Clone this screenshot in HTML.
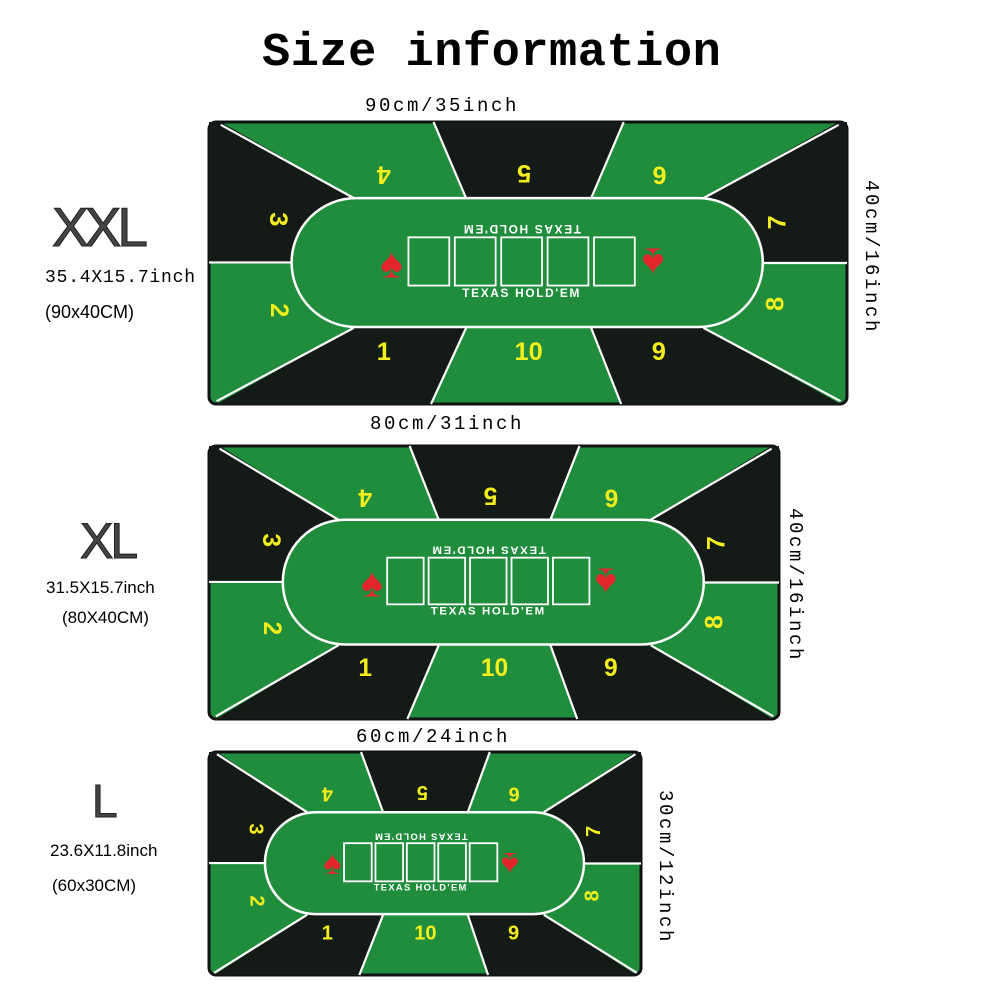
<!DOCTYPE html>
<html><head><meta charset="utf-8"><style>
body{margin:0;background:#fff;width:1000px;height:1000px;overflow:hidden;position:relative;font-family:"Liberation Sans",sans-serif}
.t{position:absolute;white-space:nowrap;color:#000;line-height:1;z-index:2}
.mono{font-family:"Liberation Mono",monospace}
svg{position:absolute;left:0;top:0;z-index:1}
</style></head><body>
<div class="t mono" style="left:262px;top:30px;font-size:47px;font-weight:bold;letter-spacing:0.5px">Size information</div>
<div class="t mono" style="left:365px;top:97px;font-size:19px;letter-spacing:2.6px">90cm/35inch</div>
<div class="t mono" style="left:370px;top:415px;font-size:19px;letter-spacing:2.6px">80cm/31inch</div>
<div class="t mono" style="left:356px;top:728px;font-size:19px;letter-spacing:2.6px">60cm/24inch</div>
<div class="t mono" style="left:860px;top:180px;font-size:19px;letter-spacing:2.6px;transform-origin:0 0;transform:rotate(90deg) translate(0,-20px)">40cm/16inch</div>
<div class="t mono" style="left:784px;top:508px;font-size:19px;letter-spacing:2.6px;transform-origin:0 0;transform:rotate(90deg) translate(0,-20px)">40cm/16inch</div>
<div class="t mono" style="left:654px;top:790px;font-size:19px;letter-spacing:2.6px;transform-origin:0 0;transform:rotate(90deg) translate(0,-20px)">30cm/12inch</div>
<div class="t" style="left:52px;top:200px;font-size:55px;color:#444;letter-spacing:-4px;-webkit-text-stroke:1px #222">XXL</div>
<div class="t mono" style="left:45px;top:269px;font-size:18px;letter-spacing:0.8px">35.4X15.7inch</div>
<div class="t" style="left:45px;top:303px;font-size:18px">(90x40CM)</div>
<div class="t" style="left:80px;top:516px;font-size:50px;color:#444;letter-spacing:-3px;-webkit-text-stroke:1px #222">XL</div>
<div class="t" style="left:46px;top:579px;font-size:17px">31.5X15.7inch</div>
<div class="t" style="left:62px;top:609px;font-size:17px">(80X40CM)</div>
<div class="t" style="left:92px;top:778px;font-size:46px;color:#444;-webkit-text-stroke:1px #222">L</div>
<div class="t" style="left:50px;top:842px;font-size:17px">23.6X11.8inch</div>
<div class="t" style="left:52px;top:877px;font-size:17px">(60x30CM)</div>
<svg id="s" width="1000" height="1000" xmlns="http://www.w3.org/2000/svg"></svg>
<script>
var s=document.getElementById('s');var out='';
function mat(X,Y,W,H){
 var px=function(f){return X+f*W;}, py=function(f){return Y+f*H;};
 var G='#1f8d3b',B='#141a15';
 var ox1=px(0.1295),ox2=px(0.868),oy1=py(0.27),oy2=py(0.727),r=(oy2-oy1)/2;
 var o='<rect x="'+X+'" y="'+Y+'" width="'+W+'" height="'+H+'" rx="7" fill="'+G+'" stroke="#111" stroke-width="3"/>';
 function poly(pts,c){o+='<polygon points="'+pts.map(function(p){return px(p[0])+','+py(p[1]);}).join(' ')+'" fill="'+c+'"/>';}
 poly([[0,0],[0.0185,0],[0.227,0.27],[0.1295,0.498],[0,0.498]],B);
 poly([[0.352,0],[0.65,0],[0.599,0.27],[0.403,0.27]],B);
 poly([[1,0],[0.987,0],[0.775,0.27],[0.868,0.498],[1,0.498]],B);
 poly([[0.227,0.73],[0.403,0.73],[0.348,1],[0.012,1]],B);
 poly([[0.599,0.73],[0.775,0.73],[0.99,1],[0.646,1]],B);
 function ln(a,b,c,d){o+='<line x1="'+px(a)+'" y1="'+py(b)+'" x2="'+px(c)+'" y2="'+py(d)+'" stroke="#fff" stroke-width="2.2"/>';}
 ln(0.0185,0.01,0.227,0.27);ln(0.352,0,0.403,0.27);ln(0.65,0,0.599,0.27);ln(0.987,0.01,0.775,0.27);
 ln(0,0.498,0.13,0.498);ln(0.868,0.5,1,0.5);
 ln(0.227,0.73,0.012,0.99);ln(0.403,0.73,0.348,1);ln(0.599,0.73,0.646,1);ln(0.775,0.73,0.99,0.99);
 o+='<rect x="'+ox1+'" y="'+oy1+'" width="'+(ox2-ox1)+'" height="'+(oy2-oy1)+'" rx="'+r+'" fill="'+G+'" stroke="#fff" stroke-width="2.5"/>';
 for(var i=0;i<5;i++)o+='<rect x="'+px(0.3126+i*0.0727)+'" y="'+py(0.409)+'" width="'+(0.064*W)+'" height="'+(0.171*H)+'" fill="none" stroke="#fff" stroke-width="1.8"/>';
 var fs=H*0.09, ts=H*0.042;
 function txt(t,fx,fy,rot,size,col,w,ls){var x=px(fx),y=py(fy);o+='<text x="'+x+'" y="'+y+'" transform="rotate('+rot+' '+x+' '+y+')" text-anchor="middle" dominant-baseline="central" font-family="Liberation Sans,sans-serif" font-size="'+size+'" fill="'+col+'" font-weight="'+(w||'normal')+'" letter-spacing="'+(ls||0)+'">'+t+'</text>';}
 txt("TEXAS HOLD'EM",0.49,0.38,180,ts,'#fff','bold',H*0.006);
 txt("TEXAS HOLD'EM",0.49,0.607,0,ts,'#fff','bold',H*0.006);
 txt('\u2660',0.286,0.5,0,H*0.15,'#e3262b');
 txt('\u2660',0.696,0.5,180,H*0.15,'#e3262b');
 var YC='#f2ee1e';
 txt('4',0.274,0.186,180,fs,YC,'bold');txt('5',0.494,0.18,180,fs,YC,'bold');txt('6',0.706,0.186,180,fs,YC,'bold');
 txt('3',0.108,0.345,90,fs,YC,'bold');txt('7',0.891,0.356,-90,fs,YC,'bold');
 txt('2',0.11,0.668,90,fs,YC,'bold');txt('8',0.888,0.645,-90,fs,YC,'bold');
 txt('1',0.274,0.815,0,fs,YC,'bold');txt('10',0.501,0.815,0,fs,YC,'bold');txt('9',0.705,0.815,0,fs,YC,'bold');
 out+=o;
}
mat(209,122,638,282);
mat(209,446,570,273);
mat(209,752,432,223);
s.innerHTML=out;
</script>
</body></html>
